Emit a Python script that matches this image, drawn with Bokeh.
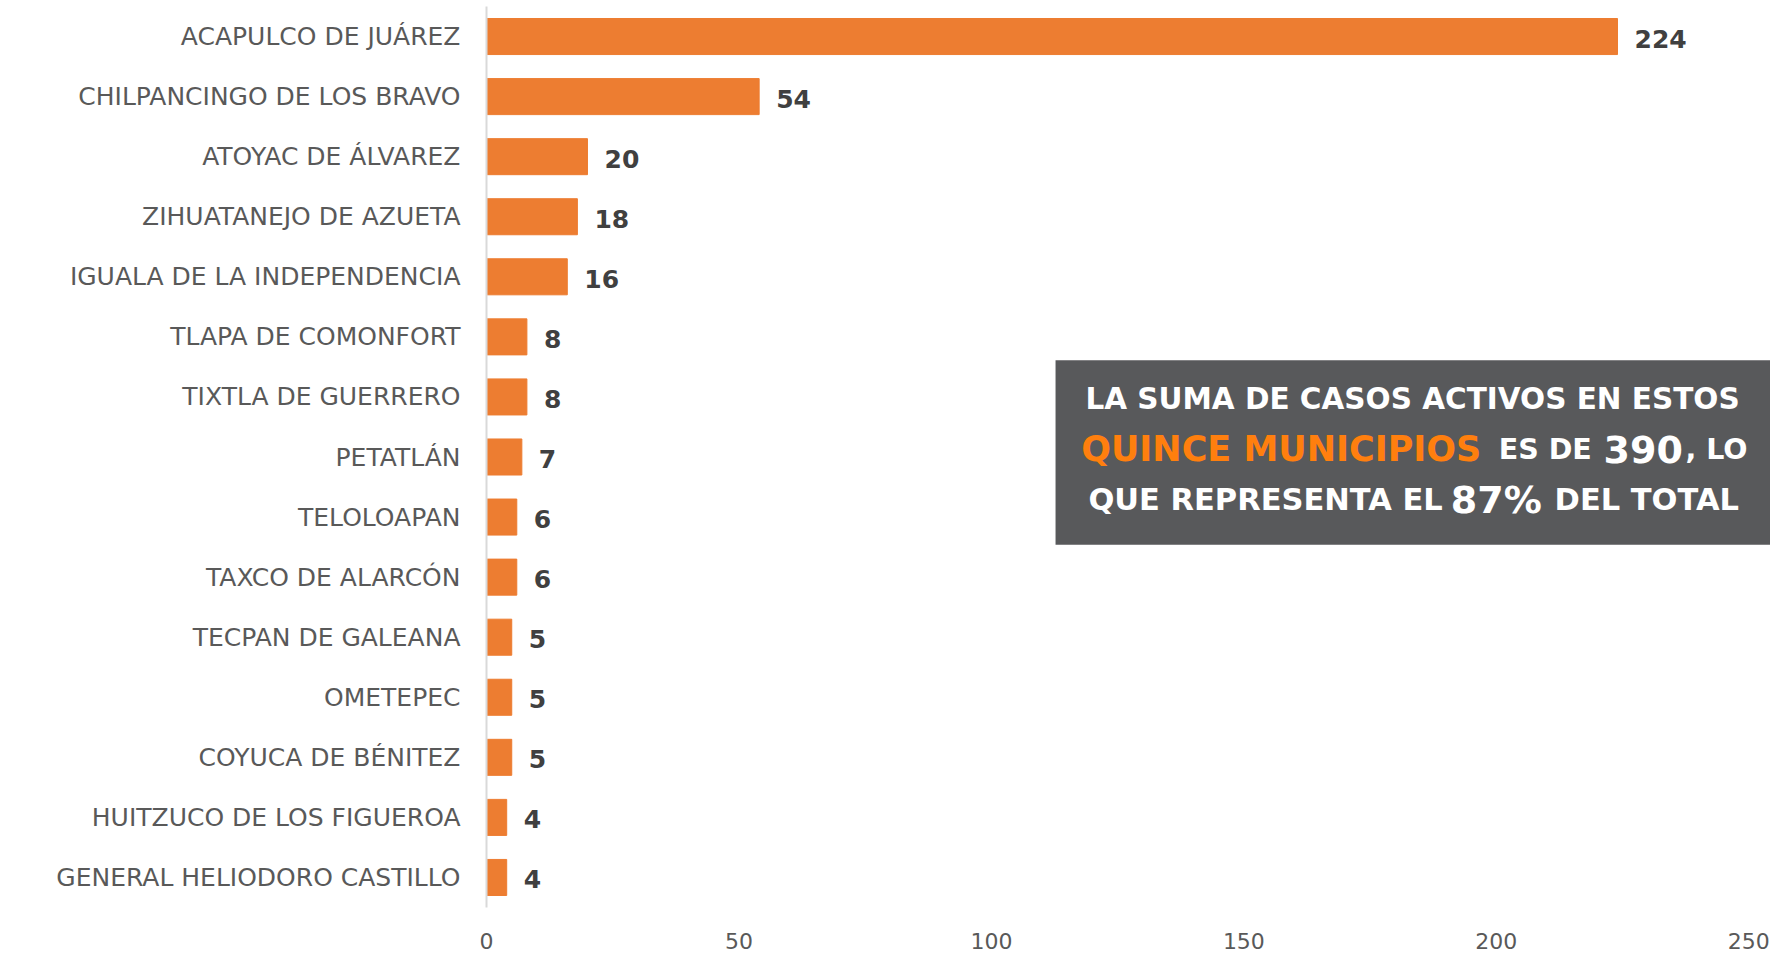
from bokeh.plotting import figure
from bokeh.models import ColumnDataSource, FactorRange, Range1d, BoxAnnotation, Label, FixedTicker
from bokeh.core.properties import value
from bokeh.embed import file_html
from bokeh.resources import INLINE

municipios = [
    "ACAPULCO DE JUÁREZ", "CHILPANCINGO DE LOS BRAVO", "ATOYAC DE ÁLVAREZ",
    "ZIHUATANEJO DE AZUETA", "IGUALA DE LA INDEPENDENCIA", "TLAPA DE COMONFORT",
    "TIXTLA DE GUERRERO", "PETATLÁN", "TELOLOAPAN", "TAXCO DE ALARCÓN",
    "TECPAN DE GALEANA", "OMETEPEC", "COYUCA DE BÉNITEZ",
    "HUITZUCO DE LOS FIGUEROA", "GENERAL HELIODORO CASTILLO",
]
casos = [224, 54, 20, 18, 16, 8, 8, 7, 6, 6, 5, 5, 5, 4, 4]
x_ticks = [0, 50, 100, 150, 200, 250]

FONT = "DejaVu Sans"
BAR = "#ED7D31"

src = ColumnDataSource(dict(m=municipios, v=casos, t=[str(c) for c in casos]))

p = figure(
    width=1770, height=958, output_backend="svg", toolbar_location=None,
    y_range=FactorRange(factors=list(reversed(municipios)), range_padding=0),
    x_range=Range1d(0, 254.3),
    min_border_left=486, min_border_right=0, min_border_top=6, min_border_bottom=51,
)
p.outline_line_color = None
p.grid.grid_line_color = None

p.hbar(y="m", right="v", height=0.6, left=0, source=src, color=BAR)

p.text(x="v", y="m", text="t", source=src, x_offset=17, y_offset=2,
       text_font=value(FONT), text_font_style="bold", text_font_size="25px",
       text_color="#404040", text_baseline="middle", text_align="left")

ya = p.yaxis[0]
ya.axis_line_color = "#D9D9D9"
ya.axis_line_width = 2
ya.major_tick_line_color = None
ya.minor_tick_line_color = None
ya.major_tick_out = 0
ya.major_tick_in = 0
ya.major_label_standoff = 26
ya.major_label_text_font = FONT
ya.major_label_text_font_size = "25px"
ya.major_label_text_color = "#595959"

xa = p.xaxis[0]
xa.ticker = FixedTicker(ticks=x_ticks)
xa.axis_line_color = None
xa.major_tick_line_color = None
xa.minor_tick_line_color = None
xa.major_tick_out = 0
xa.major_tick_in = 0
xa.major_label_standoff = 25
xa.major_label_text_font = FONT
xa.major_label_text_font_size = "22px"
xa.major_label_text_color = "#595959"

# annotation box
p.add_layout(BoxAnnotation(left=112.7, right=254.3, top=9.11, bottom=6.04,
                           fill_color="#58595B", fill_alpha=1.0, line_color=None))

def lab(x, y, t, size, color="white"):
    p.add_layout(Label(x=x, y=y, text=t, text_font=FONT, text_font_size=size,
                       text_color=color, text_font_style="bold",
                       text_align="center", text_baseline="middle"))

lab(183.4, 8.46, "LA SUMA DE CASOS ACTIVOS EN ESTOS", "29.5px")
lab(157.4, 7.63, "QUINCE MUNICIPIOS", "35px", color="#FF7F0E")
lab(209.7, 7.63, "ES DE", "28.5px")
lab(229.1, 7.63, "390", "38px")
lab(243.6, 7.63, ", LO", "28.5px")
lab(154.3, 6.79, "QUE REPRESENTA EL", "30.5px")
lab(200.0, 6.79, "87%", "38px")
lab(229.8, 6.79, "DEL TOTAL", "30.5px")

open("out.html", "w").write(file_html(p, INLINE))
